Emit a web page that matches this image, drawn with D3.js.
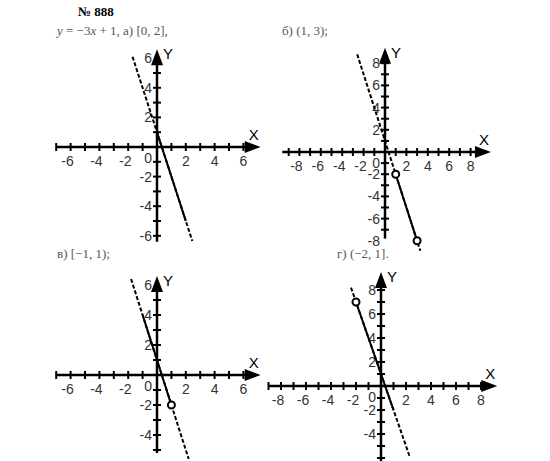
<!DOCTYPE html>
<html><head><meta charset="utf-8">
<script src="https://cdn.jsdelivr.net/npm/d3@7"></script>
<style>body{margin:0;background:#fff}text{font-family:"Liberation Sans",Arial,sans-serif}text.serif{font-family:"Liberation Serif",serif}</style>
</head><body><svg id="c" width="550" height="461"></svg>
<script>
// y = -3x + 1, четыре промежутка
var f = function(x){ return -3*x + 1; };
var captions = ["а) [0, 2],", "б) (1, 3);", "в) [−1, 1);", "г) (−2, 1]."];
var xTicksA = [-6,-4,-2,2,4,6], yTicksA = [-6,-4,-2,2,4,6];
var xTicksB = [-8,-6,-4,-2,2,4,6,8], yTicksB = [-8,-6,-4,-2,2,4,6,8];
var yTicksC = [-4,-2,2,4,6], yTicksD = [-4,-2,2,4,6,8];
// [dashed from, dashed to], [solid from, solid to], open endpoints
var dashA = [-1.7, 2.45], solidA = [0, 2], openA = [];
var dashB = [-2.6, 3.3], solidB = [1, 3], openB = [1, 3];
var dashC = [-1.8, 2.2], solidC = [-1, 1], openC = [1];
var dashD = [-2.4, 2.3], solidD = [-2, 1], openD = [-2];

var panels = [
 {ox:157, oy:147, kx:14.4, ky:14.8, xd:[-7,7.2], yd:[-6.4,6.6], xt:xTicksA, yt:yTicksA, dash:dashA, solid:solidA, open:openA},
 {ox:385, oy:152, kx:10.7, ky:11.1, xd:[-9.6,9.9], yd:[-7.8,9.4], xt:xTicksB, yt:yTicksB, dash:dashB, solid:solidB, open:openB},
 {ox:157, oy:375, kx:14.4, ky:15, xd:[-7,7.2], yd:[-5.2,6.6], xt:xTicksA, yt:yTicksC, dash:dashC, solid:solidC, open:openC},
 {ox:381, oy:386, kx:12.5, ky:12, xd:[-9,9.3], yd:[-6.3,9.5], xt:xTicksB, yt:yTicksD, dash:dashD, solid:solidD, open:openD}
];
var svg = d3.select("#c");
svg.append("text").attr("class","serif").attr("x",78).attr("y",16).attr("font-weight","bold").attr("font-size",13).text("№ 888");
svg.append("text").attr("class","serif").attr("x",57).attr("y",35).attr("font-size",13).attr("fill","#555")
  .html('<tspan font-style="italic">y</tspan> = −3<tspan font-style="italic">x</tspan> + 1, ' + captions[0]);
var capPos = [[0,0],[282,35],[57,258],[337,258]];
[1,2,3].forEach(function(i){
  svg.append("text").attr("class","serif").attr("x",capPos[i][0]).attr("y",capPos[i][1]).attr("font-size",13).attr("fill","#555").text(captions[i]);
});
panels.forEach(function(p){
  var x = d3.scaleLinear().domain([0,1]).range([p.ox, p.ox+p.kx]);
  var y = d3.scaleLinear().domain([0,1]).range([p.oy, p.oy-p.ky]);
  var g = svg.append("g");
  g.append("line").attr("x1",x(p.xd[0])).attr("x2",x(p.xd[1])-8).attr("y1",p.oy).attr("y2",p.oy).attr("stroke","#000").attr("stroke-width",2.5);
  g.append("line").attr("y1",y(p.yd[0])).attr("y2",y(p.yd[1])+8).attr("x1",p.ox).attr("x2",p.ox).attr("stroke","#000").attr("stroke-width",2.5);
  var ax = x(p.xd[1]), ay = y(p.yd[1]);
  g.append("path").attr("d","M"+ax+","+p.oy+"l-16,-6v12z");
  g.append("path").attr("d","M"+p.ox+","+ay+"l-6,16h12z");
  var xs = d3.range(Math.ceil(p.xd[0]), Math.floor(p.xd[1])).filter(function(v){return v!==0 && x(v) < ax-10;});
  var ys = d3.range(Math.ceil(p.yd[0]), Math.floor(p.yd[1])).filter(function(v){return v!==0 && y(v) > ay+12;});
  g.selectAll(".tx").data(xs).enter().append("line").attr("x1",x).attr("x2",x).attr("y1",p.oy-4).attr("y2",p.oy+4).attr("stroke","#000").attr("stroke-width",2);
  g.selectAll(".ty").data(ys).enter().append("line").attr("y1",y).attr("y2",y).attr("x1",p.ox-4).attr("x2",p.ox+4).attr("stroke","#000").attr("stroke-width",2);
  g.selectAll(".lx").data(p.xt).enter().append("text").attr("x",function(d){return x(d)-(d<0?3:0);}).attr("y",p.oy+19).attr("text-anchor","middle").attr("font-size",14).attr("fill","#333").text(function(d){return d;});
  g.selectAll(".ly").data(p.yt).enter().append("text").attr("x",p.ox-5).attr("y",function(d){return y(d)+5;}).attr("text-anchor","end").attr("font-size",14).attr("fill","#333").text(function(d){return d;});
  g.append("text").attr("x",p.ox-5).attr("y",p.oy+16).attr("text-anchor","end").attr("font-size",14).attr("fill","#333").text("0");
  g.append("text").attr("x",ax-12).attr("y",p.oy-7).attr("font-size",15).text("X");
  g.append("text").attr("x",p.ox+6).attr("y",ay+10).attr("font-size",15).text("Y");
  g.append("line").attr("x1",x(p.dash[0])).attr("y1",y(f(p.dash[0]))).attr("x2",x(p.dash[1])).attr("y2",y(f(p.dash[1])))
    .attr("stroke","#000").attr("stroke-width",2).attr("stroke-dasharray","4,2");
  g.append("line").attr("x1",x(p.solid[0])).attr("y1",y(f(p.solid[0]))).attr("x2",x(p.solid[1])).attr("y2",y(f(p.solid[1])))
    .attr("stroke","#000").attr("stroke-width",2);
  g.selectAll(".o").data(p.open).enter().append("circle").attr("cx",x).attr("cy",function(d){return y(f(d));}).attr("r",3.5)
    .attr("fill","#fff").attr("stroke","#000").attr("stroke-width",2);
});
</script></body></html>
